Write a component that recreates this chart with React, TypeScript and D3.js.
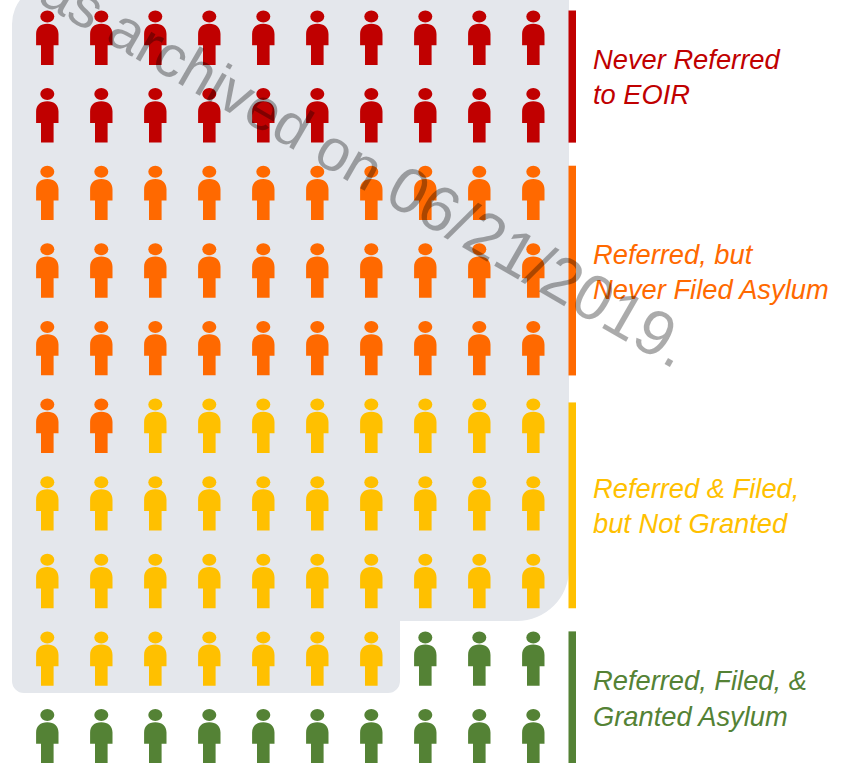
import React, { useEffect, useRef } from 'react';
import * as d3 from 'd3';

const W = 842;
const H = 763;

const categories = ['Never Referred', 'Referred, but Never', 'Referred & Filed', 'Granted'];
const counts = [20, 32, 35, 13];
const colors = ['#C00000', '#FF6900', '#FFC000', '#548235'];
const labels = [
  ['Never Referred', 'to EOIR'],
  ['Referred, but', 'Never Filed Asylum'],
  ['Referred & Filed,', 'but Not Granted'],
  ['Referred, Filed, &', 'Granted Asylum'],
];
// first and last icon row each bar spans
const barRows = [[0, 1], [2, 4], [5.05, 7], [8, 9]];
const labelBaselines = [[69, 104], [264, 299], [498, 533], [690, 726]];
const columns = d3.range(10);
const rows = d3.range(10);
const watermarkStart = 'This page was archived on ';
const watermarkDate = '06/21/2019.';

// one person, drawn around its own head centre
function personBody() {
  const p = d3.path();
  p.moveTo(-11.2, 28.8);
  p.lineTo(-11.2, 17.5);
  p.bezierCurveTo(-11.2, 11, -7, 7.2, 0, 7.2);
  p.bezierCurveTo(7, 7.2, 11.2, 11, 11.2, 17.5);
  p.lineTo(11.2, 28.8);
  p.lineTo(6.3, 28.8);
  p.lineTo(6.3, 48.4);
  p.lineTo(-6.3, 48.4);
  p.lineTo(-6.3, 28.8);
  p.closePath();
  return p.toString();
}

export default function App() {
  const ref = useRef<SVGSVGElement>(null);

  useEffect(() => {
    const svg = d3.select(ref.current);
    svg.selectAll('*').remove();

    const xScale = d3.scaleLinear().domain([0, 9]).range([47.3, 533.3]);
    const yScale = d3.scaleLinear().domain([0, 9]).range([16.5, 715]);

    // grey panel behind the first 87 people
    const left = 12, right = 569, top = -16;
    const stepX = 400, stepY = 621, bottom = 693;
    const panel = d3.path();
    panel.moveTo(left + 40, top);
    panel.lineTo(right, top);
    panel.lineTo(right, stepY - 52);
    panel.arcTo(right, stepY, right - 52, stepY, 52);
    panel.lineTo(stepX, stepY);
    panel.lineTo(stepX, bottom - 12);
    panel.arcTo(stepX, bottom, stepX - 12, bottom, 12);
    panel.lineTo(left + 12, bottom);
    panel.arcTo(left, bottom, left, bottom - 12, 12);
    panel.lineTo(left, top + 40);
    panel.arcTo(left, top, left + 40, top, 40);
    panel.closePath();
    svg.append('path').attr('d', panel.toString()).attr('fill', '#E4E7EC');

    const people = counts.flatMap((n, i) => d3.range(n).map(() => colors[i]));
    const g = svg.selectAll('g.person')
      .data(people)
      .enter()
      .append('g')
      .attr('class', 'person')
      .attr('transform', (d, i) => `translate(${xScale(columns[i % 10])},${yScale(rows[Math.floor(i / 10)])})`)
      .attr('fill', d => d);
    g.append('ellipse').attr('rx', 7).attr('ry', 6);
    g.append('path').attr('d', personBody());

    svg.selectAll('rect.bar')
      .data(categories)
      .enter()
      .append('rect')
      .attr('class', 'bar')
      .attr('x', 568.5)
      .attr('width', 7.5)
      .attr('y', (d, i) => yScale(barRows[i][0]) - 6)
      .attr('height', (d, i) => yScale(barRows[i][1]) - yScale(barRows[i][0]) + 54.5)
      .attr('fill', (d, i) => colors[i]);

    labels.forEach((lines, i) => {
      lines.forEach((line, j) => {
        svg.append('text')
          .attr('x', 593)
          .attr('y', labelBaselines[i][j])
          .attr('fill', colors[i])
          .style('font-family', 'Liberation Sans')
          .style('font-style', 'italic')
          .style('font-size', '27.3px')
          .text(line);
      });
    });

    const mark = svg.append('text')
      .attr('transform', 'translate(675,370) rotate(30)')
      .attr('text-anchor', 'end')
      .attr('fill', '#000')
      .attr('fill-opacity', 0.33)
      .style('font-family', 'Liberation Sans')
      .style('font-size', '59px');
    mark.append('tspan').text(watermarkStart);
    mark.append('tspan').style('font-size', '64px').text(watermarkDate);
  }, []);

  return (
    <svg
      ref={ref}
      width={W}
      height={H}
      style={{ position: 'absolute', left: 0, top: 0, display: 'block', background: '#fff' }}
    />
  );
}
